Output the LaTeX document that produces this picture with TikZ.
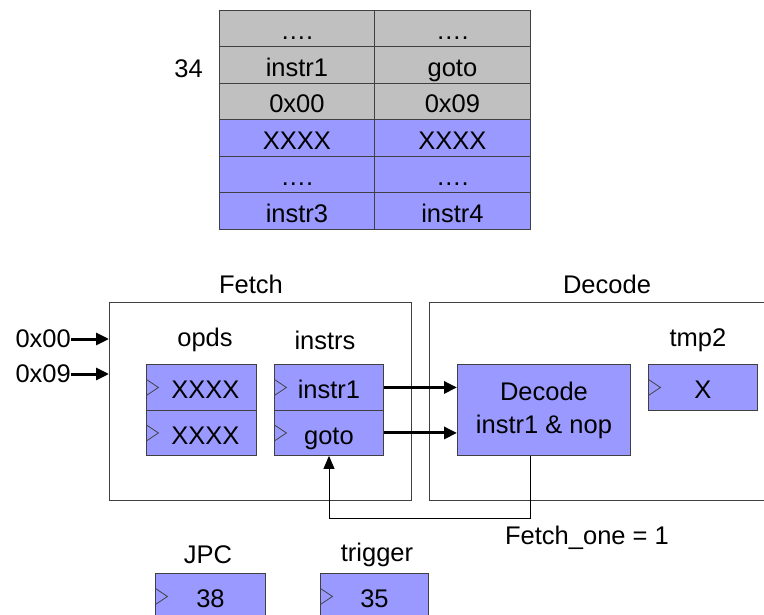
\documentclass[tikz,border=0pt]{standalone}
\usepackage{fontspec}
\setmainfont{Liberation Sans}
\usetikzlibrary{arrows.meta}
\definecolor{regblue}{HTML}{9999FF}
\definecolor{memgray}{HTML}{C0C0C0}
\definecolor{edge}{HTML}{404040}
\tikzset{
  txt/.style={inner sep=0pt, font=\fontsize{25.5}{33}\selectfont},
  boxtext/.style={text height=22.5pt, text depth=0pt},
  cell/.style={txt, boxtext, draw=edge, line width=0.9pt, anchor=north west,
    minimum height=36.5pt},
  reg/.style={txt, draw=edge, line width=0.9pt, fill=regblue, anchor=north west},
  clk/.style={boxtext, path picture={
      \draw[edge, line width=0.8pt]
        ([yshift=8pt]path picture bounding box.west) -- ++(12pt,-8pt) -- ++(-12pt,-8pt);}},
  stage/.style={draw=edge, line width=0.9pt, anchor=north west},
  bus/.style={line width=3pt, -{Triangle[length=13pt,width=12pt]}},
  thin/.style={line width=0.9pt, -{Triangle[length=13pt,width=11pt]}}
}
\begin{document}
\begin{tikzpicture}[x=1pt,y=-1pt]
\useasboundingbox (0,0) rectangle (764,615);
\clip (0,0) rectangle (764,615);

% memory table
\foreach \r/\a/\b/\c in {0/{\dots.}/{\dots.}/memgray,
                         1/instr1/goto/memgray,
                         2/0x00/0x09/memgray,
                         3/XXXX/XXXX/regblue,
                         4/{\dots.}/{\dots.}/regblue,
                         5/instr3/instr4/regblue}{
  \node[cell, fill=\c, minimum width=155pt] (mL\r) at (219,10+36.5*\r) {\a};
  \node[cell, fill=\c, minimum width=156pt] (mR\r) at (374,10+36.5*\r) {\b};
}
\node[txt, anchor=east] (addr) at (203,69) {34};

% pipeline stages
\node[stage, minimum width=302pt, minimum height=198pt] (fetch) at (109,302) {};
\node[stage, minimum width=360pt, minimum height=198pt] (decode) at (429,302) {};
\node[txt] (fetchlbl) at (251,284) {Fetch};
\node[txt] (decodelbl) at (607,284) {Decode};

% fetch registers
\node[txt] (opdslbl) at (205,340) {opds};
\node[txt] (instrslbl) at (325,340) {instrs};
\node[reg, clk, minimum width=110pt, minimum height=46pt] (op1) at (146,364) {\hspace*{8pt}XXXX};
\node[reg, clk, minimum width=110pt, minimum height=45pt] (op2) at (146,410) {\hspace*{8pt}XXXX};
\node[reg, clk, minimum width=109pt, minimum height=46pt] (in1) at (274,364) {instr1};
\node[reg, clk, minimum width=109pt, minimum height=45pt] (in2) at (274,410) {goto};

% decode logic and register
\node[reg, minimum width=173pt, minimum height=91pt, align=center] (dec) at (457,364)
  {Decode\\instr1 \& nop};
\node[txt] (tmplbl) at (698,340) {tmp2};
\node[reg, clk, minimum width=109pt, minimum height=46pt] (tmp) at (648,364) {X};

% inputs
\node[txt, anchor=east] (i0) at (71,339) {0x00};
\node[txt, anchor=east] (i1) at (71,374) {0x09};
\draw[bus] (i0.east) -- (i0.east -| fetch.west);
\draw[bus] (i1.east) -- (i1.east -| fetch.west);

% buses into decode
\draw[bus] (in1.east) -- (in1.east -| dec.west);
\draw[bus] (in2.east) -- (in2.east -| dec.west);

% feedback
\coordinate (fbR) at ([xshift=-14pt]dec.south);
\coordinate (fbL) at (329,518);
\draw[thin] (fbR) |- (fbL) -- (fbL |- in2.south);
\node[txt] (fetchone) at (587,538) {Fetch\_one = 1};

% control registers
\node[txt] (jpclbl) at (208,555) {JPC};
\node[txt] (trglbl) at (377,555) {trigger};
\node[reg, clk, minimum width=110pt, minimum height=46pt] (jpc) at (155,573) {38};
\node[reg, clk, minimum width=108pt, minimum height=46pt] (trg) at (320,573) {35};
\end{tikzpicture}
\end{document}
